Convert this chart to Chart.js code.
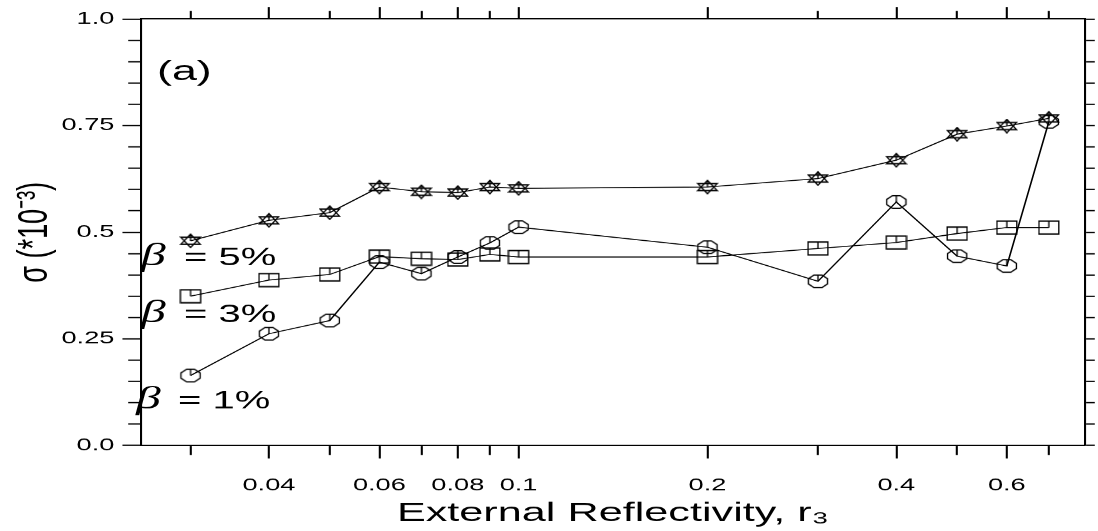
<!DOCTYPE html>
<html>
<head>
<meta charset="utf-8">
<script src="https://cdn.jsdelivr.net/npm/chart.js@4.4.1/dist/chart.umd.min.js"></script>
<style>
html, body { margin: 0; padding: 0; background: #fff; overflow: hidden; }
#chart { display: block; }
</style>
</head>
<body>
<canvas id="chart" width="686" height="531" style="width:1098px;height:531px"></canvas>
<script>
// data
const reflectivity = [0.03, 0.04, 0.05, 0.06, 0.07, 0.08, 0.09, 0.1, 0.2, 0.3, 0.4, 0.5, 0.6, 0.7];
const sigmaBeta5 = [0.480, 0.528, 0.546, 0.606, 0.595, 0.593, 0.606, 0.603, 0.606, 0.626, 0.669, 0.730, 0.749, 0.767];
const sigmaBeta3 = [0.350, 0.388, 0.401, 0.443, 0.438, 0.436, 0.448, 0.442, 0.442, 0.462, 0.476, 0.497, 0.511, 0.511];
const sigmaBeta1 = [0.164, 0.262, 0.293, 0.430, 0.403, 0.442, 0.475, 0.512, 0.465, 0.385, 0.571, 0.444, 0.421, 0.759];

const xTicks = [0.03, 0.04, 0.05, 0.06, 0.07, 0.08, 0.09, 0.1, 0.2, 0.3, 0.4, 0.5, 0.6, 0.7];
const xTickLabels = ['', '0.04', '', '0.06', '', '0.08', '', '0.1', '0.2', '', '0.4', '', '0.6', ''];
const yMajorTicks = [0, 0.25, 0.5, 0.75, 1.0];
const yMajorLabels = ['0.0', '0.25', '0.5', '0.75', '1.0'];
const seriesNames = ['\u03b2 = 5%', '\u03b2 = 3%', '\u03b2 = 1%'];

// the original figure is stretched sideways, so draw narrow and widen with the pixel ratio
const STRETCH = 1098 / 686;
const FONT = '"Liberation Sans", Arial, sans-serif';

function xLabelOf(v) {
    let i = xTicks.findIndex(t => Math.abs(t - v) < 1e-9);
    return i < 0 ? '' : xTickLabels[i];
}

function yMajorIndex(v) {
    return yMajorTicks.findIndex(t => Math.abs(t - v) < 1e-6);
}

function makeMarker(shape) {
    // drawn in screen pixels (22 x 15), canvas rows squeezed by the stretch
    let c = document.createElement('canvas');
    c.width = 22;
    c.height = 24;
    let g = c.getContext('2d');
    g.scale(1, 24 / 15);
    g.strokeStyle = '#000';
    g.lineWidth = 1.3;
    g.beginPath();
    if (shape === 'star') {
        g.moveTo(11, 0.8); g.lineTo(20.5, 11); g.lineTo(1.5, 11); g.closePath();
        g.moveTo(11, 14.2); g.lineTo(1.5, 4); g.lineTo(20.5, 4); g.closePath();
        g.moveTo(11, 0.8); g.lineTo(11, 7.5);
    } else if (shape === 'square') {
        g.rect(1.2, 1, 19.6, 13);
        g.moveTo(11, 1); g.lineTo(11, 7.5);
    } else {
        for (let k = 0; k < 8; k++) {
            let a = Math.PI / 8 + k * Math.PI / 4;
            let px = 11 + 10.2 * Math.cos(a), py = 7.5 + 6.8 * Math.sin(a);
            if (k === 0) g.moveTo(px, py); else g.lineTo(px, py);
        }
        g.closePath();
        g.moveTo(11, 0.8); g.lineTo(11, 7.5);
    }
    g.stroke();
    let img = new Image(Math.round(22 / STRETCH), 15);
    img.src = c.toDataURL();
    return img;
}

const panelText = {
    id: 'panelText',
    afterDraw(chart) {
        let ctx = chart.ctx;
        ctx.save();
        ctx.fillStyle = '#000';
        ctx.textBaseline = 'alphabetic';
        ctx.font = '28px ' + FONT;
        ctx.fillText('(a)', 157 / STRETCH, 80);
        let spots = [[141, 184, 265], [141, 184, 322], [136, 178, 408]];
        seriesNames.forEach((name, i) => {
            let [bx, ex, by] = spots[i];
            ctx.font = 'italic 31px "Liberation Serif", serif';
            ctx.fillText('\u03b2', bx / STRETCH, by);
            ctx.font = '25px ' + FONT;
            ctx.fillText(name.slice(2), ex / STRETCH, by);
        });
        ctx.restore();
    }
};

function tickDash(minorDash, isMajor) {
    return c => (c.tick && isMajor(c.tick.value)) ? [] : minorDash;
}

function makeChart(markers) {
    let line = (data, marker) => ({
        data: reflectivity.map((x, i) => ({x: x, y: data[i]})),
        borderColor: '#000',
        borderWidth: 1,
        backgroundColor: 'transparent',
        pointStyle: marker,
        pointRadius: 7,
        tension: 0
    });
    let setXTicks = scale => { scale.ticks = xTicks.map(v => ({value: v})); };
    let xMajor = v => xLabelOf(v) !== '';
    let yMajor = v => yMajorIndex(v) >= 0;
    let border = {display: true, color: '#000', width: 1.3};

    new Chart(document.getElementById('chart'), {
        type: 'line',
        data: {
            datasets: [
                line(sigmaBeta5, markers.star),
                line(sigmaBeta3, markers.square),
                line(sigmaBeta1, markers.octagon)
            ]
        },
        options: {
            responsive: false,
            devicePixelRatio: STRETCH,
            animation: false,
            layout: {padding: 0},
            plugins: {legend: {display: false}, tooltip: {enabled: false}},
            scales: {
                x: {
                    type: 'logarithmic',
                    position: 'bottom',
                    min: 0.025,
                    max: 0.8,
                    afterBuildTicks: setXTicks,
                    afterFit: s => { s.height = 86; },
                    border: border,
                    grid: {
                        drawOnChartArea: false,
                        tickLength: 13,
                        tickColor: '#000',
                        tickWidth: 1.3,
                        tickBorderDash: tickDash([9, 100], xMajor)
                    },
                    ticks: {
                        autoSkip: false,
                        maxRotation: 0,
                        padding: 17,
                        color: '#000',
                        font: {family: FONT, size: 17},
                        callback: v => xLabelOf(v)
                    },
                    title: {
                        display: true,
                        text: 'External Reflectivity, r\u2083',
                        color: '#000',
                        font: {family: FONT, size: 27},
                        padding: {top: 0, bottom: 2}
                    }
                },
                xTop: {
                    type: 'logarithmic',
                    position: 'top',
                    min: 0.025,
                    max: 0.8,
                    afterBuildTicks: setXTicks,
                    afterFit: s => { s.height = 19; },
                    border: border,
                    grid: {
                        drawOnChartArea: false,
                        tickLength: 12,
                        tickColor: '#000',
                        tickWidth: 1.3,
                        tickBorderDash: tickDash([0, 4, 8, 100], xMajor)
                    },
                    ticks: {display: false, autoSkip: false}
                },
                y: {
                    type: 'linear',
                    position: 'left',
                    min: 0,
                    max: 1,
                    afterFit: s => { s.width = 88; },
                    border: border,
                    grid: {
                        drawOnChartArea: false,
                        tickLength: 11.5,
                        tickColor: '#000',
                        tickWidth: 1.3,
                        tickBorderDash: tickDash([0, 3.6, 7.9, 100], yMajor)
                    },
                    ticks: {
                        stepSize: 0.05,
                        autoSkip: false,
                        padding: 5,
                        color: '#000',
                        font: {family: FONT, size: 17},
                        callback: v => {
                            let i = yMajorIndex(v);
                            return i < 0 ? '' : yMajorLabels[i];
                        }
                    },
                    title: {
                        display: true,
                        text: '\u03c3 (*10\u207b\u00b3)',
                        color: '#000',
                        font: {family: FONT, size: 27},
                        padding: {top: 6, bottom: 0}
                    }
                },
                yRight: {
                    type: 'linear',
                    position: 'right',
                    min: 0,
                    max: 1,
                    afterFit: s => { s.width = 5.5; },
                    border: border,
                    grid: {
                        drawOnChartArea: false,
                        tickLength: 6,
                        tickColor: '#000',
                        tickWidth: 1.3
                    },
                    ticks: {display: false, stepSize: 0.05, autoSkip: false}
                }
            }
        },
        plugins: [panelText]
    });
}

document.addEventListener('DOMContentLoaded', () => {
    let markers = {
        star: makeMarker('star'),
        square: makeMarker('square'),
        octagon: makeMarker('octagon')
    };
    Promise.all(Object.values(markers).map(m => m.decode().catch(() => null)))
        .then(() => makeChart(markers));
});
</script>
</body>
</html>
